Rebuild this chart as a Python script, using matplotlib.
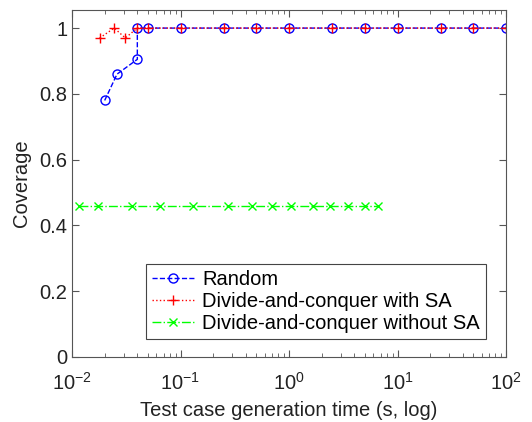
import matplotlib
matplotlib.use("Agg")
import matplotlib.pyplot as plt
from matplotlib.ticker import LogLocator, NullFormatter

plt.rcParams['font.family'] = ['Liberation Sans', 'DejaVu Sans']

# Random
rand_t = [0.02, 0.026, 0.04, 0.04, 0.05, 0.1, 0.25, 0.5, 1, 2.5, 5, 10, 25, 50, 100]
rand_cov = [0.78, 0.86, 0.905, 1, 1, 1, 1, 1, 1, 1, 1, 1, 1, 1, 1]

# Divide-and-conquer with SA
sa_t = [0.018, 0.0245, 0.031, 0.04, 0.05, 0.1, 0.25, 0.5, 1, 2.5, 5, 10, 25, 50, 100]
sa_cov = [0.97, 1, 0.97, 1, 1, 1, 1, 1, 1, 1, 1, 1, 1, 1, 1]

# Divide-and-conquer without SA
nosa_t = [0.0116, 0.0173, 0.0355, 0.065, 0.131, 0.276, 0.453, 0.70, 1.04, 1.67, 2.39, 3.52, 5.0, 6.65]
nosa_cov = [0.46] * 14

labels = ['Random', 'Divide-and-conquer with SA', 'Divide-and-conquer without SA']

fig = plt.figure(figsize=(5.32, 4.22), dpi=100)
ax = fig.add_axes([72/532, 1-357/422, 434/532, 347/422])

ax.plot(rand_t, rand_cov, '--o', color='blue', mfc='none', ms=6.5, lw=1, label=labels[0])
ax.plot(sa_t, sa_cov, ':+', color='red', ms=7, lw=1, mew=1, label=labels[1])
ax.plot(nosa_t, nosa_cov, '-.x', color='#00ff00', ms=6, lw=1, mew=1, label=labels[2])

ax.set_xscale('log')
ax.set_xlim(1e-2, 1e2)
ax.set_ylim(0, 1.055)
ax.set_yticks([0, 0.2, 0.4, 0.6, 0.8, 1])
ax.set_yticklabels(['0', '0.2', '0.4', '0.6', '0.8', '1'])
ax.xaxis.set_minor_locator(LogLocator(base=10, subs=range(2, 10)))
ax.xaxis.set_minor_formatter(NullFormatter())
ax.tick_params(which='both', direction='in', top=True, right=True, labelsize=14.5,
               colors='#555555', labelcolor='#222222')
ax.tick_params(which='major', length=5)
ax.tick_params(which='minor', length=3)
ax.tick_params(axis='x', which='major', pad=11)
for s in ax.spines.values():
    s.set_color('#555555')

ax.set_xlabel('Test case generation time (s, log)', fontsize=14.5, color='#222222', labelpad=5)
ax.set_ylabel('Coverage', fontsize=14.5, color='#222222', labelpad=6)

leg = ax.legend(loc='lower right', bbox_to_anchor=(0.954, 0.052), borderaxespad=0,
                fontsize=14.5, fancybox=False, edgecolor='#444444', framealpha=1,
                handlelength=2.1, borderpad=0.3, labelspacing=0.15, handletextpad=0.4)
leg.get_frame().set_linewidth(0.8)

fig.savefig('out.png', dpi=100)
